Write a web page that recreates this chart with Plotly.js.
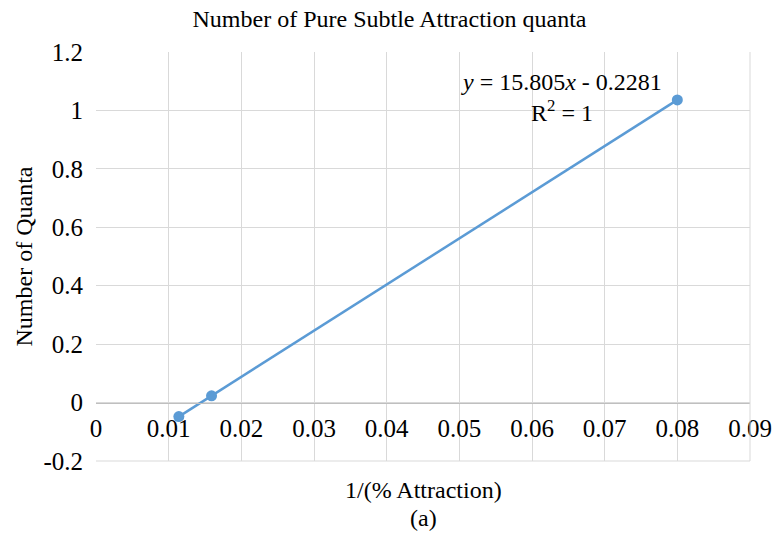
<!DOCTYPE html>
<html>
<head>
<meta charset="utf-8">
<script src="https://cdn.plot.ly/plotly-3.0.1.min.js"></script>
<style>html,body{margin:0;padding:0;background:#fff;}#chart{width:779px;height:536px;}</style>
</head>
<body>
<div id="chart"></div>
<script>
const xValues = [0.0114, 0.0159, 0.0800];
const yValues = [-0.048, 0.023, 1.036];
const xTicks = [0, 0.01, 0.02, 0.03, 0.04, 0.05, 0.06, 0.07, 0.08, 0.09];
const xTickLabels = ["0", "0.01", "0.02", "0.03", "0.04", "0.05", "0.06", "0.07", "0.08", "0.09"];
const yTicks = [-0.2, 0, 0.2, 0.4, 0.6, 0.8, 1, 1.2];
const yTickLabels = ["-0.2", "0", "0.2", "0.4", "0.6", "0.8", "1", "1.2"];
const chartTitle = "Number of Pure Subtle Attraction quanta";
const xTitle = "1/(% Attraction)";
const yTitle = "Number of Quanta";
const caption = "(a)";
const equationText = "<i>y</i> = 15.805<i>x</i> - 0.2281";
const r2Text = "R<sup>2</sup> = 1";

const font = "Liberation Serif";
const fs = 25;

const trace = {
  x: xValues, y: yValues, type: 'scatter', mode: 'lines+markers',
  line: {color: '#5B9BD5', width: 2.5},
  marker: {color: '#5B9BD5', size: 11},
  hoverinfo: 'none', showlegend: false
};

const layout = {
  width: 779, height: 536,
  margin: {l: 96, r: 29, t: 52, b: 75},
  paper_bgcolor: '#fff', plot_bgcolor: '#fff',
  font: {family: font, color: '#000', size: fs},
  title: {text: chartTitle, font: {family: font, size: 24, color: '#000'}, x: 0.5, xanchor: 'center', y: 0.966, yanchor: 'middle'},
  xaxis: {
    range: [0, 0.09], tickvals: xTicks, ticktext: xTickLabels,
    anchor: 'free', position: 0.2/1.4,
    showgrid: true, gridcolor: '#d9d9d9', gridwidth: 1,
    zeroline: false, showline: true, linecolor: '#bfbfbf', linewidth: 1.5,
    ticks: '', ticklabelstandoff: 3, tickfont: {family: font, size: fs, color: '#000'},
    fixedrange: true
  },
  yaxis: {
    range: [-0.2, 1.2], tickvals: yTicks, ticktext: yTickLabels,
    showgrid: true, gridcolor: '#d9d9d9', gridwidth: 1,
    zeroline: false, showline: false, ticks: '', ticklen: 0,
    ticklabelstandoff: 12,
    tickfont: {family: font, size: fs, color: '#000'},
    title: {text: yTitle, font: {family: font, size: 24, color: '#000'}, standoff: 4},
    fixedrange: true
  },
  shapes: [
    {type: 'line', xref: 'paper', yref: 'paper', x0: 0, x1: 1, y0: 0, y1: 0, line: {color: '#d9d9d9', width: 1}},
    {type: 'line', xref: 'paper', yref: 'paper', x0: 1, x1: 1, y0: 0, y1: 1, line: {color: '#d9d9d9', width: 1}}
  ],
  annotations: [
    {xref: 'paper', yref: 'paper', x: 0.5, y: -0.071, yanchor: 'middle', xanchor: 'center', text: xTitle, showarrow: false, font: {family: font, size: 24, color: '#000'}},
    {xref: 'paper', yref: 'paper', x: 0.5, y: -0.139, yanchor: 'middle', xanchor: 'center', text: caption, showarrow: false, font: {family: font, size: 24, color: '#000'}},
    {xref: 'x', yref: 'y', x: 0.0641, y: 1.099, text: equationText, showarrow: false, xanchor: 'center', yanchor: 'middle', font: {family: font, size: 24, color: '#000'}},
    {xref: 'x', yref: 'y', x: 0.0641, y: 0.997, text: r2Text, showarrow: false, xanchor: 'center', yanchor: 'middle', font: {family: font, size: 24, color: '#000'}}
  ]
};

Plotly.newPlot('chart', [trace], layout, {displayModeBar: false, staticPlot: true});
</script>
</body>
</html>
